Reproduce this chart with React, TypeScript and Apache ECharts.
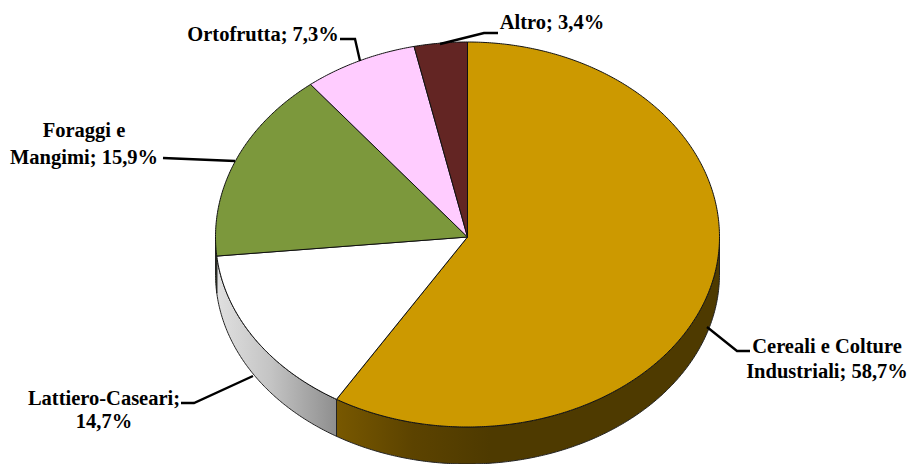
import React, { useEffect, useRef } from "react";
import * as echarts from "echarts";

const categories = ["Cereali e Colture Industriali", "Lattiero-Caseari", "Foraggi e Mangimi", "Ortofrutta", "Altro"];
const shares = [58.7, 14.7, 15.9, 7.3, 3.4];
const topColors = ["#CC9900", "#FFFFFF", "#7C983C", "#FFCCFF", "#632523"];

const labelLines: string[][] = [
  ["Cereali e Colture", "Industriali; 58,7%"],
  ["Lattiero-Caseari;", "14,7%"],
  ["Foraggi e", "Mangimi; 15,9%"],
  ["Ortofrutta; 7,3%"],
  ["Altro; 3,4%"],
];
const labelAnchors = [
  [827, 346, 25],
  [104, 398, 23],
  [84, 130, 27],
  [263, 34, 0],
  [552, 22, 0],
];
const leaders = [
  [[707, 327], [737, 351], [750, 351]],
  [[181, 403], [194, 403], [253, 376]],
  [[163, 158], [235, 161]],
  [[340, 39], [355, 39], [360, 61]],
  [[498, 33], [484, 33], [440, 44]],
];

const CX = 467.5;
const CY = 237;
const RX = 252;
const RY_UP = 195;
const RY_DOWN = 190;
const DEPTH = 37;
const FONT = '"Liberation Serif", "Times New Roman", serif';

const pt = (deg: number, dy = 0): number[] => {
  const a = (deg * Math.PI) / 180;
  const c = Math.cos(a);
  return [CX + RX * Math.sin(a), CY - (c >= 0 ? RY_UP : RY_DOWN) * c + dy];
};

const total = shares.reduce((s, v) => s + v, 0);
const bounds: number[] = [0];
shares.forEach((v, i) => bounds.push(bounds[i] + (v / total) * 360));

const arc = (from: number, to: number, dy = 0): number[][] => {
  const out: number[][] = [];
  const n = Math.max(2, Math.ceil(Math.abs(to - from) * 2));
  for (let i = 0; i <= n; i++) out.push(pt(from + ((to - from) * i) / n, dy));
  return out;
};

const sideFill = (i: number) => {
  const stops =
    i === 0
      ? [
          { offset: 0, color: "#785800" },
          { offset: 0.2, color: "#5C4300" },
          { offset: 0.4, color: "#4E3A00" },
          { offset: 1, color: "#4E3A00" },
        ]
      : i === 1
        ? [
            { offset: 0, color: "#E0E0E0" },
            { offset: 0.45, color: "#C4C4C4" },
            { offset: 1, color: "#8E8E8E" },
          ]
        : [
            { offset: 0, color: "#3E4C1E" },
            { offset: 1, color: "#3E4C1E" },
          ];
  return new echarts.graphic.LinearGradient(0, 0, 1, 0, stops);
};

const renderSlice = (params: any) => {
  const i: number = params.dataIndex;
  const from = bounds[i];
  const to = bounds[i + 1];
  const children: any[] = [];

  // Visible wall of the slice: the front half of the rim, 90 to 270 degrees.
  const wFrom = Math.max(from, 90);
  const wTo = Math.min(to, 270);
  if (wTo > wFrom) {
    const upper = arc(wFrom, wTo);
    const lower = arc(wTo, wFrom, DEPTH);
    children.push({
      type: "polygon",
      z2: 1,
      shape: { points: upper.concat(lower) },
      style: { fill: sideFill(i), stroke: "#222222", lineWidth: 1 },
    });
  }

  const rim = arc(from, to);
  children.push({
    type: "polygon",
    z2: 2,
    shape: { points: [[CX, CY], ...rim] },
    style: { fill: topColors[i], stroke: "#111111", lineWidth: 1 },
  });
  return { type: "group", children };
};

const renderLabel = (params: any) => {
  const i: number = params.dataIndex;
  const [x, y, lh] = labelAnchors[i];
  return {
    type: "group",
    children: [
      {
        type: "polyline",
        z2: 5,
        shape: { points: leaders[i] },
        style: { fill: "none", stroke: "#000000", lineWidth: 2.4 },
      },
      ...labelLines[i].map((line, k) => ({
        type: "text",
        z2: 6,
        style: {
          x,
          y: y + k * lh,
          text: line,
          fill: "#000000",
          font: `bold 20.5px ${FONT}`,
          align: "center",
          verticalAlign: "middle",
        },
      })),
    ],
  };
};

export default function App() {
  const ref = useRef<HTMLDivElement>(null);
  useEffect(() => {
    const chart = echarts.init(ref.current!, undefined, { renderer: "svg" });
    const data = categories.map((name, i) => ({ name, value: shares[i] }));
    chart.setOption({
      animation: false,
      backgroundColor: "#FFFFFF",
      series: [
        { type: "custom", coordinateSystem: "none", silent: true, clip: false, z: 1, data: data.slice(), renderItem: renderSlice },
        { type: "custom", coordinateSystem: "none", silent: true, clip: false, z: 2, data: data.slice(), renderItem: renderLabel },
      ],
    });
    return () => chart.dispose();
  }, []);
  return <div ref={ref} style={{ position: "fixed", left: 0, top: 0, width: 908, height: 464 }} />;
}
